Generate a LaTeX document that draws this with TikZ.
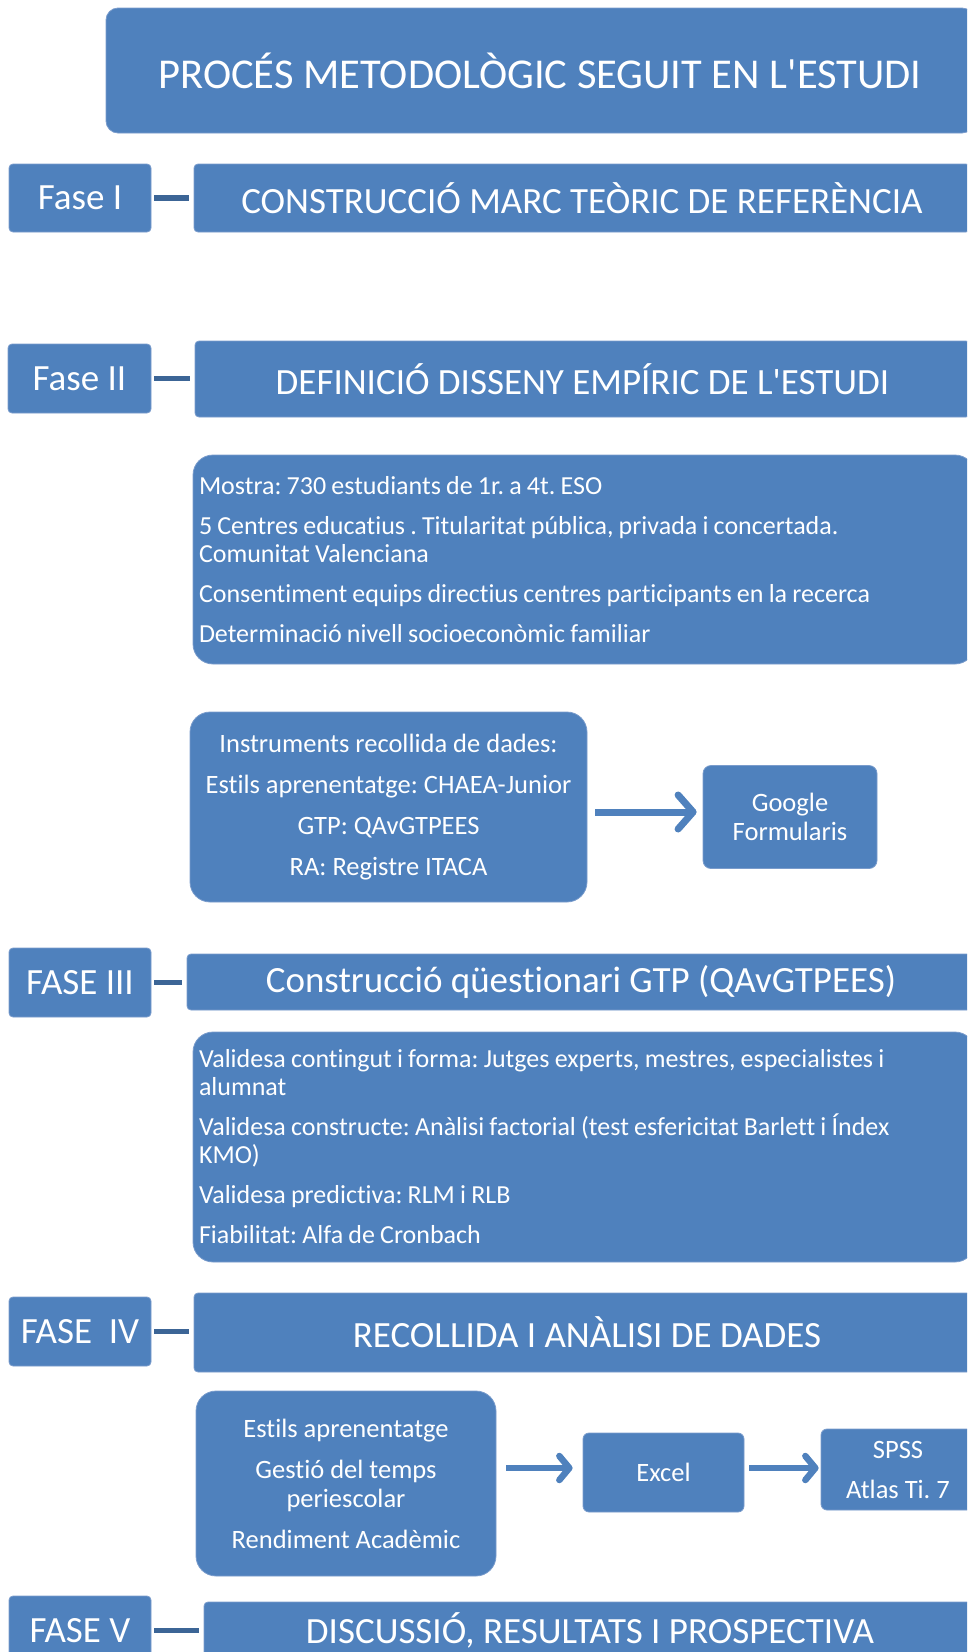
\documentclass[tikz,border=0pt]{standalone}
\usepackage{fontspec}
\setmainfont{Carlito}[Ligatures={NoCommon}]
\usetikzlibrary{arrows.meta,calc}
\definecolor{boxblue}{RGB}{79,129,189}
\definecolor{boxedge}{RGB}{122,156,204}
\definecolor{linkblue}{RGB}{60,101,150}
\frenchspacing
\newcommand\tightwords{\spaceskip=0.2em plus 0.05em\relax}

\begin{document}
\begin{tikzpicture}[x=1pt,y=-1pt,
  box/.style={fill=boxblue, draw=boxedge, line width=0.8pt, text=white,
    inner sep=0pt, align=center, rounded corners=4pt},
  phasebox/.style={box, font=\fontsize{37}{44}\selectfont},
  listbox/.style={box, rounded corners=20pt, inner xsep=6pt, align=left,
    font=\fontsize{26}{28}\selectfont, execute at begin node=\tightwords},
  itembox/.style={box, font=\fontsize{26.5}{29}\selectfont},
  link/.style={draw=linkblue, line width=5.5pt, shorten <=3pt, shorten >=5pt},
  fatarrow/.style={draw=boxblue, line width=7pt,
    -{Straight Barb[length=15pt,width=34pt,round]}},
  slimarrow/.style={draw=boxblue, line width=6.5pt,
    -{Straight Barb[length=10pt,width=24pt,round]}}
]
\useasboundingbox (0,0) rectangle (967,1652);
\clip (0,0) rectangle (967,1652);

% heading
\node[box, rounded corners=12pt, minimum width=868, minimum height=125,
  font=\fontsize{42.5}{50}\selectfont] (title) at (540,70.5)
  {PROCÉS METODOLÒGIC SEGUIT EN L\textquotesingle ESTUDI};

% phase I
\node[phasebox, minimum width=142, minimum height=68] (f1) at (80,198) {Fase I};
\node[phasebox, minimum width=776, minimum height=68] (m1) at (582,198)
  {CONSTRUCCIÓ MARC TEÒRIC DE REFERÈNCIA};
\draw[link] (f1.east) -- (f1.east -| m1.west);

% phase II
\node[phasebox, minimum width=143, minimum height=69] (f2) at (79.5,378.5) {Fase II};
\node[phasebox, minimum width=775, minimum height=76] (m2) at (582.5,379)
  {DEFINICIÓ DISSENY EMPÍRIC DE L\textquotesingle ESTUDI};
\draw[link] (f2.east) -- (f2.east -| m2.west);

\node[listbox, text width=770, minimum height=209] (d2) at (584,559.5)
  {Mostra: 730 estudiants de 1r. a 4t. ESO\\[12pt]
   5 Centres educatius . Titularitat pública, privada i concertada.\\
   Comunitat Valenciana\\[12pt]
   Consentiment equips directius centres participants en la recerca\\[12pt]
   Determinació nivell socioeconòmic familiar};

\node[box, rounded corners=20pt, minimum width=397, minimum height=190,
  font=\fontsize{26.5}{41}\selectfont] (instr) at (388.5,807)
  {Instruments recollida de dades:\\
   Estils aprenentatge: CHAEA-Junior\\
   GTP: QAvGTPEES\\
   RA: Registre ITACA};
\node[itembox, rounded corners=8pt, minimum width=174, minimum height=103]
  (google) at (790,817) {Google\\Formularis};
\draw[fatarrow, shorten <=8pt, shorten >=6pt]
  ($(instr.east)+(0,5)$) -- ($(google.west)+(0,-5)$);

% phase III
\node[phasebox, minimum width=142, minimum height=69] (f3) at (80,982.5) {FASE III};
\node[phasebox, minimum width=788, minimum height=56] (m3) at (581,982)
  {Construcció qüestionari GTP (QAvGTPEES)};
\draw[link] (f3.east) -- (f3.east -| m3.west);

\node[listbox, text width=770, minimum height=230] (d3) at (584,1147)
  {Validesa contingut i forma: Jutges experts, mestres, especialistes i\\
   alumnat\\[12pt]
   Validesa constructe: Anàlisi factorial (test esfericitat Barlett i Índex\\
   KMO)\\[12pt]
   Validesa predictiva: RLM i RLB\\[12pt]
   Fiabilitat: Alfa de Cronbach};

% phase IV
\node[phasebox, minimum width=142, minimum height=69] (f4) at (80,1331.5) {FASE~~IV};
\node[phasebox, minimum width=786, minimum height=79] (m4) at (587,1332.5)
  {RECOLLIDA I ANÀLISI DE DADES};
\draw[link] (f4.east) -- (f4.east -| m4.west);

\node[itembox, rounded corners=20pt, minimum width=300, minimum height=185]
  (dat) at (346,1483.5)
  {Estils aprenentatge\\[12pt]
   Gestió del temps\\
   periescolar\\[12pt]
   Rendiment Acadèmic};
\node[itembox, rounded corners=6pt, minimum width=161, minimum height=79]
  (excel) at (663.5,1472.5) {Excel};
\node[box, rounded corners=6pt, minimum width=154, minimum height=81,
  font=\fontsize{26.5}{40}\selectfont] (spss) at (898,1469.5) {SPSS\\Atlas Ti. 7};
\draw[slimarrow, shorten <=10pt, shorten >=10pt]
  ($(excel.west -| dat.east)+(0,-4.5)$) -- ($(excel.west)+(0,-4.5)$);
\draw[slimarrow, shorten <=5pt, shorten >=2pt]
  ($(excel.east)+(0,-4.5)$) -- ($(spss.west)+(0,-1.5)$);

% phase V
\node[phasebox, minimum width=142, minimum height=69] (f5) at (80,1630.5) {FASE V};
\node[phasebox, minimum width=772, minimum height=56] (m5) at (590,1630)
  {DISCUSSIÓ, RESULTATS I PROSPECTIVA};
\draw[link] (f5.east) -- (f5.east -| m5.west);
\end{tikzpicture}
\end{document}
